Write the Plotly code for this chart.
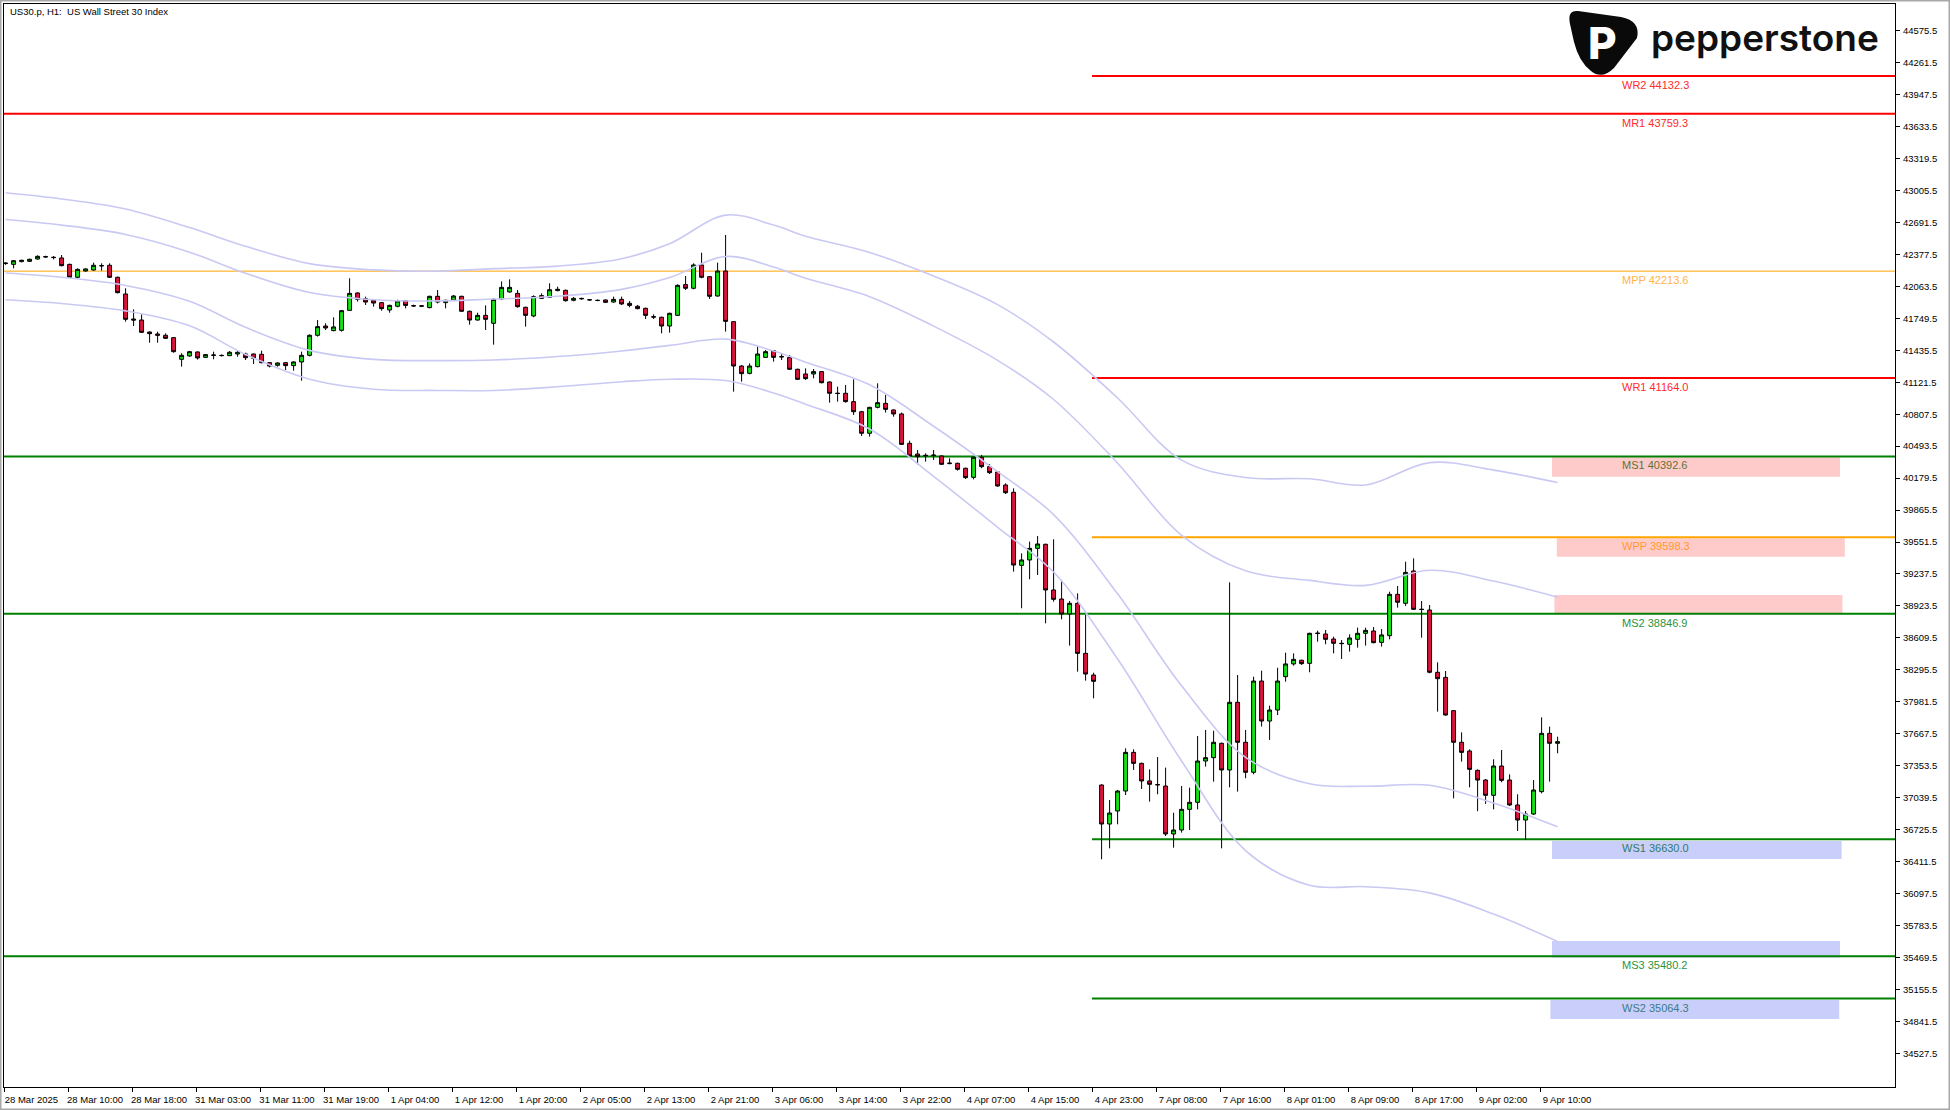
import plotly.graph_objects as go

# ---------------- data ----------------
bar_index = list(range(195))

open_ = [42288, 42280, 42307, 42310, 42333, 42352, 42350, 42343, 42280, 42153,
         42215, 42225, 42268, 42271, 42153, 41989, 41743, 41733, 41615, 41596,
         41583, 41560, 41347, 41380, 41419, 41366, 41386, 41383, 41383, 41399,
         41399, 41399, 41396, 41314, 41288, 41314, 41285, 41321, 41386, 41583,
         41674, 41629, 41632, 41828, 41999, 41943, 41927, 41904, 41832, 41868,
         41923, 41874, 41869, 41855, 41966, 41904, 41930, 41966, 41819, 41733,
         41779, 41701, 41940, 42009, 41995, 41858, 41773, 41973, 41956, 42022,
         42025, 41927, 41941, 41933, 41927, 41930, 41910, 41936, 41897, 41868,
         41848, 41766, 41760, 41674, 41779, 42081, 42045, 42274, 42159, 41969,
         42215, 41717, 41281, 41209, 41275, 41366, 41432, 41375, 41366, 41249,
         41203, 41203, 41226, 41124, 41014, 41013, 40931, 40832, 40620, 40875,
         40914, 40849, 40810, 40521, 40416, 40404, 40402, 40397, 40322, 40325,
         40276, 40187, 40384, 40292, 40240, 40112, 40040, 39322, 39375, 39489,
         39529, 39080, 38991, 38844, 38949, 38457, 38244, 37163, 36780, 36908,
         37104, 37484, 37376, 37203, 37168, 37153, 36682, 36721, 36924, 36993,
         37399, 37432, 37573, 37311, 37976, 37583, 37288, 38185, 37792, 37900,
         38228, 38353, 38389, 38359, 38652, 38647, 38598, 38556, 38546, 38595,
         38654, 38677, 38565, 38631, 39037, 38949, 39267, 38891, 38883, 38271,
         38221, 37894, 37583, 37497, 37307, 37212, 37062, 37350, 37212, 36967,
         36819, 36878, 37098, 37671, 37573]

high = [42300, 42323, 42326, 42336, 42369, 42365, 42362, 42372, 42287, 42241,
        42241, 42297, 42290, 42290, 42160, 42045, 41838, 41789, 41622, 41619,
        41602, 41566, 41406, 41430, 41425, 41399, 41422, 41395, 41429, 41435,
        41412, 41405, 41432, 41320, 41317, 41320, 41327, 41422, 41592, 41733,
        41701, 41760, 41832, 42143, 42005, 41963, 41933, 41910, 41884, 41933,
        41930, 41884, 41880, 41972, 42028, 41933, 41979, 41972, 41825, 41805,
        41877, 41946, 42113, 42133, 42028, 41864, 41976, 41995, 42094, 42061,
        42032, 41959, 41953, 41940, 41935, 41936, 41963, 41963, 41920, 41881,
        41855, 41789, 41766, 41805, 42084, 42166, 42290, 42395, 42166, 42297,
        42569, 41720, 41290, 41307, 41471, 41438, 41438, 41406, 41389, 41255,
        41258, 41252, 41232, 41130, 41078, 41095, 41150, 40840, 40880, 41111,
        40996, 40855, 40823, 40547, 40456, 40423, 40456, 40403, 40374, 40331,
        40282, 40390, 40407, 40318, 40246, 40128, 40079, 39440, 39555, 39610,
        39535, 39578, 39178, 38972, 39047, 38834, 38267, 37170, 37016, 37114,
        37524, 37514, 37383, 37317, 37438, 37334, 36891, 37153, 37137, 37645,
        37704, 37697, 37580, 39155, 38244, 37704, 38228, 38287, 37943, 38316,
        38464, 38457, 38395, 38660, 38680, 38687, 38621, 38588, 38644, 38710,
        38710, 38716, 38696, 39063, 39119, 39358, 39391, 38972, 38932, 38369,
        38284, 37900, 37681, 37514, 37317, 37222, 37416, 37507, 37268, 37072,
        36908, 37212, 37828, 37737, 37638]

low = [42275, 42241, 42300, 42303, 42326, 42345, 42329, 42261, 42146, 42143,
       42208, 42218, 42218, 42146, 41995, 41717, 41674, 41605, 41510, 41510,
       41546, 41412, 41275, 41372, 41344, 41360, 41347, 41375, 41378, 41373,
       41340, 41301, 41307, 41268, 41275, 41242, 41235, 41137, 41376, 41570,
       41635, 41622, 41619, 41825, 41914, 41881, 41864, 41825, 41805, 41858,
       41848, 41862, 41860, 41848, 41897, 41848, 41923, 41815, 41687, 41727,
       41635, 41491, 41930, 42002, 41855, 41668, 41760, 41940, 41950, 42015,
       41914, 41917, 41933, 41923, 41918, 41900, 41904, 41881, 41858, 41838,
       41743, 41743, 41602, 41609, 41772, 42028, 42035, 42143, 41940, 41963,
       41619, 41029, 41127, 41199, 41268, 41360, 41324, 41340, 41242, 41144,
       41144, 41160, 41111, 40921, 40931, 40921, 40800, 40593, 40587, 40865,
       40823, 40783, 40505, 40390, 40315, 40341, 40357, 40308, 40315, 40253,
       40171, 40167, 40276, 40220, 40095, 40023, 39260, 38900, 39185, 39227,
       38752, 38965, 38791, 38533, 38277, 38189, 38015, 36433, 36541, 36777,
       37065, 37311, 37124, 37000, 37072, 36662, 36547, 36695, 36721, 36924,
       37344, 37196, 36541, 37140, 37098, 37229, 37268, 37737, 37606, 37851,
       38179, 38336, 38343, 38271, 38572, 38546, 38457, 38402, 38474, 38513,
       38533, 38556, 38523, 38595, 38906, 38923, 38883, 38611, 38261, 37884,
       37845, 37032, 37393, 37140, 36906, 36977, 36924, 37190, 36957, 36711,
       36623, 36868, 37081, 37196, 37475]

close = [42292, 42316, 42320, 42330, 42359, 42356, 42347, 42267, 42153, 42231,
         42235, 42271, 42266, 42153, 42002, 41740, 41733, 41612, 41599, 41583,
         41553, 41422, 41386, 41422, 41360, 41393, 41389, 41385, 41416, 41416,
         41363, 41357, 41314, 41281, 41311, 41285, 41321, 41386, 41583, 41668,
         41655, 41665, 41825, 41995, 41936, 41910, 41900, 41845, 41877, 41920,
         41877, 41872, 41872, 41966, 41910, 41927, 41969, 41819, 41733, 41779,
         41740, 41936, 42054, 42054, 41864, 41779, 41963, 41946, 42031, 42035,
         41923, 41946, 41945, 41931, 41925, 41907, 41936, 41891, 41877, 41845,
         41779, 41762, 41674, 41799, 42074, 42045, 42274, 42153, 41966, 42215,
         41720, 41281, 41206, 41281, 41399, 41422, 41366, 41371, 41249, 41150,
         41157, 41226, 41117, 41013, 41011, 40931, 40832, 40620, 40875, 40921,
         40855, 40810, 40511, 40397, 40390, 40400, 40405, 40315, 40326, 40266,
         40184, 40384, 40292, 40233, 40102, 40036, 39325, 39375, 39489, 39532,
         39080, 38988, 38844, 38949, 38457, 38254, 38182, 36780, 36888, 37104,
         37484, 37376, 37203, 37170, 37165, 36682, 36721, 36924, 36993, 37399,
         37432, 37583, 37311, 37976, 37583, 37288, 38185, 37792, 37900, 38185,
         38353, 38398, 38356, 38654, 38655, 38595, 38556, 38553, 38608, 38654,
         38683, 38562, 38638, 39037, 38959, 39253, 38890, 38888, 38271, 38208,
         37851, 37583, 37484, 37317, 37212, 37062, 37350, 37209, 36967, 36819,
         36878, 37114, 37671, 37573, 37589]

tick_bars = [0, 8, 16, 24, 32, 40, 48, 56, 64, 72, 80, 88, 96, 104, 112, 120,
             128, 136, 144, 152, 160, 168, 176, 184, 192]
tick_text = ["28 Mar 2025", "28 Mar 10:00", "28 Mar 18:00", "31 Mar 03:00",
             "31 Mar 11:00", "31 Mar 19:00", "1 Apr 04:00", "1 Apr 12:00",
             "1 Apr 20:00", "2 Apr 05:00", "2 Apr 13:00", "2 Apr 21:00",
             "3 Apr 06:00", "3 Apr 14:00", "3 Apr 22:00", "4 Apr 07:00",
             "4 Apr 15:00", "4 Apr 23:00", "7 Apr 08:00", "7 Apr 16:00",
             "8 Apr 01:00", "8 Apr 09:00", "8 Apr 17:00", "9 Apr 02:00",
             "9 Apr 10:00"]

price_ticks = [44575.5, 44261.5, 43947.5, 43633.5, 43319.5, 43005.5, 42691.5,
               42377.5, 42063.5, 41749.5, 41435.5, 41121.5, 40807.5, 40493.5,
               40179.5, 39865.5, 39551.5, 39237.5, 38923.5, 38609.5, 38295.5,
               37981.5, 37667.5, 37353.5, 37039.5, 36725.5, 36411.5, 36097.5,
               35783.5, 35469.5, 35155.5, 34841.5, 34527.5]

# pivot levels
level_names = ["WR2", "MR1", "MPP", "WR1", "MS1", "WPP", "MS2", "WS1", "MS3", "WS2"]
level_values = [44132.3, 43759.3, 42213.6, 41164.0, 40392.6, 39598.3, 38846.9,
                36630.0, 35480.2, 35064.3]
level_period = ["W", "M", "M", "W", "M", "W", "M", "W", "M", "W"]

# shaded zones (price bounds)
zone_low = [40193, 39407, 38851, 36436, 35467, 34864]
zone_high = [40384, 39588, 39031, 36613, 35630, 35050]
zone_kind = ["upper", "upper", "upper", "lower", "lower", "lower"]

# lavender envelope lines (sampled at bars)
band_bars = [0, 7, 15, 23, 30, 38, 46, 54, 61, 69, 77, 83, 90, 96, 100, 108,
             116, 124, 131, 139, 147, 155, 163, 170, 178, 186, 194]
band_outer_upper = [42984, 42923, 42825, 42642, 42458, 42287, 42226, 42214, 42238,
                    42263, 42336, 42483, 42764, 42666, 42556, 42397, 42165, 41884,
                    41517, 40967, 40356, 40185, 40173, 40112, 40332, 40258, 40136]
band_inner_upper = [42721, 42666, 42574, 42400, 42192, 42003, 41933, 41921, 41939,
                    41966, 42034, 42150, 42357, 42254, 42144, 41963, 41673, 41337,
                    40952, 40326, 39617, 39268, 39174, 39125, 39274, 39168, 39009]
band_inner_lower = [42195, 42153, 42073, 41917, 41661, 41435, 41346, 41334, 41340,
                    41374, 41429, 41484, 41545, 41429, 41319, 41096, 40689, 40243,
                    39821, 39042, 38138, 37435, 37175, 37151, 37160, 36986, 36753]
band_outer_lower = [41933, 41896, 41823, 41676, 41395, 41151, 41053, 41041, 41041,
                    41077, 41126, 41151, 41138, 41016, 40906, 40662, 40197, 39696,
                    39256, 38401, 37399, 36519, 36177, 36164, 36103, 35895, 35626]

# ---------------- geometry / style ----------------
W, H = 1950, 1110
PL, PR, PT, PB = 4, 1895, 4, 1087          # plot area in pixels
BAR_PX = 8.0
BAR0_PX = 5.6
X_MIN = (PL - BAR0_PX) / BAR_PX
X_MAX = (PR - BAR0_PX) / BAR_PX
Y_MAX = 44132.3 + (75.9 - PT) * 9.828
Y_MIN = Y_MAX - (PB - PT) * 9.828

WEEK_START = 135.8
LABEL_X = 201.8
ZONE_X0 = {"upper": [193.3, 193.9, 193.6], "lower": [193.3, 193.3, 193.1]}
ZONE_X1 = {"upper": [229.3, 229.9, 229.6], "lower": [229.5, 229.3, 229.2]}

FONT = "Liberation Sans, Arial, sans-serif"
BULL = "#16e016"
BEAR = "#dc143c"
BAND = "#c9c9f3"

level_line_color = {"WR2": "#ff0000", "MR1": "#ff0000", "MPP": "#ffa500",
                    "WR1": "#ff0000", "MS1": "#008000", "WPP": "#ffa500",
                    "MS2": "#008000", "WS1": "#008000", "MS3": "#008000",
                    "WS2": "#008000"}
level_line_width = {"WR2": 2, "MR1": 2, "MPP": 1, "WR1": 2, "MS1": 2, "WPP": 2,
                    "MS2": 2, "WS1": 2, "MS3": 2, "WS2": 2}
level_text_color = {"WR2": "#ff2a2a", "MR1": "#ff2a2a", "MPP": "#ffb347",
                    "WR1": "#ff2a2a", "MS1": "#5f7236", "WPP": "#ff9a2e",
                    "MS2": "#2b9440", "WS1": "#2e7a6a", "MS3": "#2b9440",
                    "WS2": "#3b7a86"}


def px_x(px):
    return (px - PL) / (PR - PL)


def px_y(py):
    return (PB - py) / (PB - PT)


fig = go.Figure()

for name, vals in [("ou", band_outer_upper), ("iu", band_inner_upper),
                   ("il", band_inner_lower), ("ol", band_outer_lower)]:
    fig.add_trace(go.Scatter(x=band_bars, y=vals, mode="lines",
                             line=dict(color=BAND, width=1.6, shape="spline", smoothing=1.0),
                             hoverinfo="skip", showlegend=False))

fig.add_trace(go.Candlestick(
    x=bar_index, open=open_, high=high, low=low, close=close,
    increasing=dict(fillcolor=BULL, line=dict(color="black", width=1)),
    decreasing=dict(fillcolor=BEAR, line=dict(color="black", width=1)),
    whiskerwidth=0, showlegend=False))

shapes = []
annotations = []

# zones
counters = {"upper": 0, "lower": 0}
for lo, hi, kind in zip(zone_low, zone_high, zone_kind):
    k = counters[kind]
    counters[kind] += 1
    shapes.append(dict(type="rect", xref="x", yref="y",
                       x0=ZONE_X0[kind][k], x1=ZONE_X1[kind][k], y0=lo, y1=hi,
                       fillcolor="#ffcaca" if kind == "upper" else "#c9cffa",
                       line=dict(width=0), layer="below"))

# level lines + labels
for name, val, per in zip(level_names, level_values, level_period):
    x0 = X_MIN if per == "M" else WEEK_START
    shapes.append(dict(type="line", xref="x", yref="y", x0=x0, x1=X_MAX, y0=val, y1=val,
                       line=dict(color=level_line_color[name], width=level_line_width[name]),
                       layer="below"))
    annotations.append(dict(x=LABEL_X, y=val, xref="x", yref="y", xanchor="left",
                            yanchor="top", yshift=-1, showarrow=False,
                            text=f"{name} {val:.1f}",
                            font=dict(family=FONT, size=11, color=level_text_color[name])))

# title
annotations.append(dict(x=px_x(8), y=px_y(11), xref="paper", yref="paper",
                        xanchor="left", yanchor="middle", showarrow=False,
                        text="US30.p, H1:  US Wall Street 30 Index",
                        font=dict(family=FONT, size=9.5, color="black")))

# pepperstone logo
icon_pts = [("M", 1578, 11), ("L", 1621, 17), ("Q", 1641, 21, 1637, 38),
            ("L", 1614, 68), ("Q", 1602, 80, 1591, 71), ("Q", 1579, 62, 1574, 42),
            ("L", 1570, 24), ("Q", 1567, 10, 1578, 11)]
path = ""
for p in icon_pts:
    if p[0] == "Q":
        path += f"Q{px_x(p[1])},{px_y(p[2])} {px_x(p[3])},{px_y(p[4])} "
    else:
        path += f"{p[0]}{px_x(p[1])},{px_y(p[2])} "
path += "Z"
shapes.append(dict(type="path", xref="paper", yref="paper", path=path,
                   fillcolor="#0a0a0a", line=dict(width=0), layer="above"))
annotations.append(dict(x=px_x(1602), y=px_y(43), xref="paper", yref="paper",
                        xanchor="center", yanchor="middle", showarrow=False, text="P",
                        font=dict(family="Inter, Roboto, sans-serif", size=44,
                                  color="white", weight=800)))
annotations.append(dict(x=px_x(1649), y=px_y(37), xref="paper", yref="paper",
                        xanchor="left", yanchor="middle", showarrow=False,
                        text="pepperstone",
                        font=dict(family="Inter, Roboto, sans-serif", size=37,
                                  color="#111111", weight=600)))

# outer window frame
shapes.append(dict(type="rect", xref="paper", yref="paper",
                   x0=px_x(0.5), x1=px_x(W - 0.5), y0=px_y(H - 0.5), y1=px_y(0.5),
                   line=dict(color="#a8a8a8", width=2), fillcolor="rgba(0,0,0,0)",
                   layer="above"))

fig.update_layout(
    width=W, height=H,
    margin=dict(l=PL, r=W - PR, t=PT, b=H - PB, pad=0),
    paper_bgcolor="white", plot_bgcolor="white",
    shapes=shapes, annotations=annotations,
    showlegend=False,
    font=dict(family=FONT, size=9.5, color="black"),
    xaxis=dict(range=[X_MIN, X_MAX], rangeslider=dict(visible=False),
               showgrid=False, zeroline=False, showline=True, mirror=True,
               linecolor="black", linewidth=1,
               tickmode="array", tickvals=[max(b - 0.2, X_MIN + 0.05) for b in tick_bars],
               ticktext=tick_text,
               ticks="outside", ticklen=4, tickcolor="black",
               tickfont=dict(family=FONT, size=9.5, color="black"),
               ticklabelshift=27, ticklabelstandoff=0),
    yaxis=dict(range=[Y_MIN, Y_MAX], side="right",
               showgrid=False, zeroline=False, showline=True, mirror=True,
               linecolor="black", linewidth=1,
               tickmode="array", tickvals=price_ticks,
               ticktext=[f"{v:.1f}" for v in price_ticks],
               ticks="outside", ticklen=4, tickcolor="black",
               tickfont=dict(family=FONT, size=9.5, color="black"),
               ticklabelstandoff=1),
)

fig.write_html("out.html", include_plotlyjs=True, full_html=True,
               config={"displayModeBar": False},
               post_script="document.body.style.margin='0';document.body.style.overflow='hidden';")
